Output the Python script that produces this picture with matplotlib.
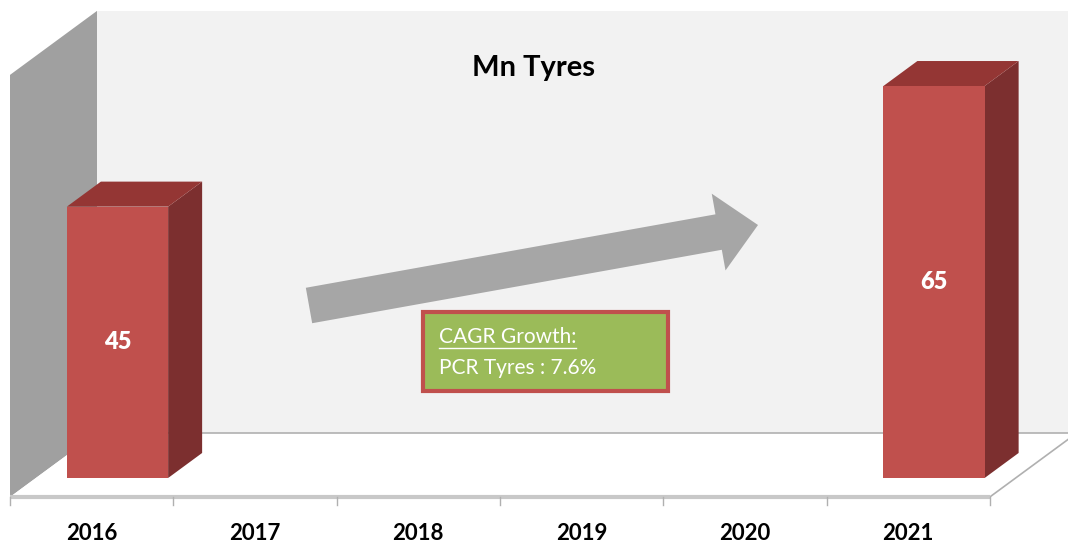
import matplotlib.pyplot as plt
from matplotlib.patches import Polygon, FancyArrow, Rectangle

years = ['2016', '2017', '2018', '2019', '2020', '2021']
values = [45, None, None, None, None, 65]
title = 'Mn Tyres'
box_lines = ['CAGR Growth:', 'PCR Tyres : 7.6%']

plt.rcParams['font.family'] = ['Lato', 'DejaVu Sans']

W, H = 1068, 547
fig = plt.figure(figsize=(W / 100, H / 100), dpi=100)
ax = fig.add_axes([0, 0, 1, 1])

# pseudo 3d: one category = 163.3 px, one unit = 6.03 px
cat_px, val_px = 163.3, 6.03
x0_px, y0_px = 10, 497
ax.set_xlim(-x0_px / cat_px, (W - x0_px) / cat_px)
ax.set_ylim(-(H - y0_px) / val_px, y0_px / val_px)
ax.axis('off')

dx, dy = 87 / cat_px, 64 / val_px   # offset of the full floor depth
ymax = 70
n = len(years)


def proj(x, v, z):
    return (x + z * dx, v + z * dy)


def face(pts, zorder=1, **kw):
    ax.add_patch(Polygon([proj(*p) for p in pts], closed=True, zorder=zorder, **kw))


# walls and floor
face([(0, 0, 1), (n, 0, 1), (n, ymax, 1), (0, ymax, 1)], fc='#f2f2f2', ec='none')
face([(0, 0, 0), (0, 0, 1), (0, ymax, 1), (0, ymax, 0)], fc='#a0a0a0', ec='none')
face([(0, 0, 0), (n, 0, 0), (n, 0, 1), (0, 0, 1)], fc='white', ec='none')
for a, b in [((0, 0, 1), (n, 0, 1)), ((n, 0, 0), (n, 0, 1))]:
    pa, pb = proj(*a), proj(*b)
    ax.plot([pa[0], pb[0]], [pa[1], pb[1]], color='#b0b0b0', lw=1.2, zorder=1.5)
ax.plot([0, n], [0, 0], color='#c8c8c8', lw=3, solid_capstyle='butt', zorder=1.5)
for k in range(n + 1):
    ax.plot([k, k], [0, -1.3], color='#b0b0b0', lw=1, zorder=1.5)

# bars
bw = 0.31
z1, z2 = 0.297, 0.688
for i, v in enumerate(values):
    if v is None:
        continue
    xl, xr = i + 0.5 - bw, i + 0.5 + bw
    face([(xr, 0, z1), (xr, 0, z2), (xr, v, z2), (xr, v, z1)], zorder=3, fc='#7c2f2f', ec='none')
    face([(xl, v, z1), (xr, v, z1), (xr, v, z2), (xl, v, z2)], zorder=3, fc='#943634', ec='none')
    face([(xl, 0, z1), (xr, 0, z1), (xr, v, z1), (xl, v, z1)], zorder=3, fc='#c0504d', ec='none')
    tx, ty = proj(i + 0.5, v / 2, z1)
    ax.text(tx, ty, str(v), color='white', fontsize=17, fontweight='heavy',
            ha='center', va='center', zorder=4)

for i, yr in enumerate(years):
    ax.text(i + 0.5, -6.0, yr, fontsize=16, fontweight='bold', ha='center', va='center')

# overlay in pixel units for arrow and note box
ov = fig.add_axes([0, 0, 1, 1])
ov.set_xlim(0, W)
ov.set_ylim(H, 0)
ov.axis('off')
ov.patch.set_alpha(0)

ov.add_patch(FancyArrow(309, 305.5, 449, -80.5, width=36, head_width=78, head_length=40,
                        length_includes_head=True, color='#a6a6a6', lw=0))
ov.add_patch(Rectangle((423, 312), 245, 79, fc='#9bbb59', ec='#c0504d', lw=3))
t1 = ov.text(439, 337, box_lines[0], color='white', fontsize=15, va='center', ha='left')
ov.text(439, 368, box_lines[1], color='white', fontsize=15, va='center', ha='left')

ov.text(W / 2, 68, title, fontsize=21, fontweight='bold', ha='center', va='center')

# underline the heading of the note
fig.canvas.draw()
bb = t1.get_window_extent().transformed(ov.transData.inverted())
ov.plot([bb.x0, bb.x1], [348, 348], color='white', lw=1)

fig.savefig('out.png', dpi=100)
